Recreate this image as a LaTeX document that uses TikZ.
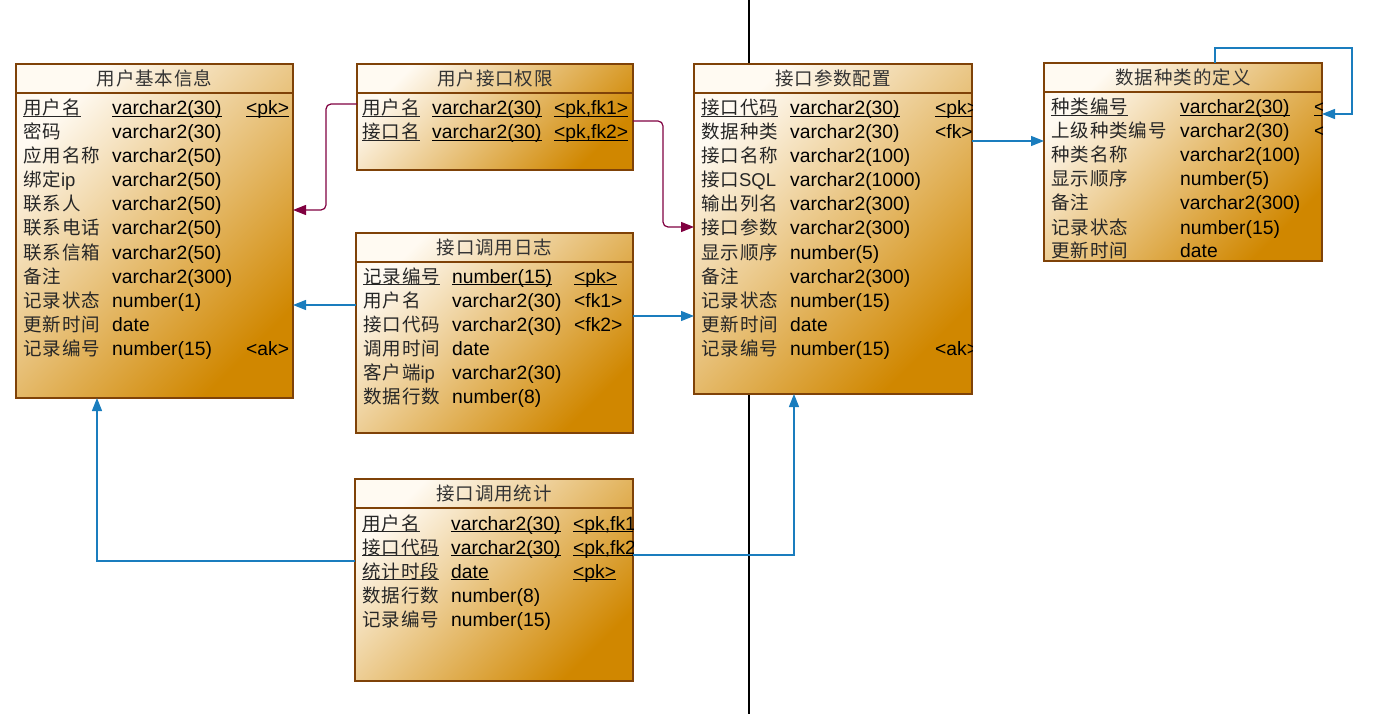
\documentclass[tikz,border=0pt]{standalone}
\usepackage{fontspec}
\setmainfont{Liberation Sans}
\newfontfamily\cjkfont[LetterSpace=5]{Noto Sans CJK SC}
\usetikzlibrary{arrows.meta,calc}

\definecolor{boxline}{HTML}{7F4208}
\definecolor{boxlight}{HTML}{FFFAF2}
\definecolor{boxdark}{HTML}{D08700}
\definecolor{fkred}{HTML}{800040}
\definecolor{fkblue}{HTML}{1A7DBE}

% underline as in the pk rows
\newcommand\pkul[1]{\setbox0=\hbox{#1}\rlap{\rule[-1.8pt]{\wd0}{0.9pt}}\box0}

% one row: table, row no., name, type, key
\newcommand\fld[5]{%
  \node[colname] (#1-n#2) at (\colN,{\rowY+24*(#2-1)+7}) {#3};
  \node[coltype] (#1-t#2) at (\colT,{\rowY+24*(#2-1)+7}) {#4};
  \node[coltype] (#1-k#2) at (\colK,{\rowY+24*(#2-1)+7}) {#5};}
\newcommand\pkfld[5]{\fld{#1}{#2}{\pkul{#3}}{\pkul{#4}}{\pkul{#5}}}

\tikzset{
  entity/.style={draw=boxline, line width=1.1pt, top color=boxlight, bottom color=boxdark,
    shading angle=45, inner sep=0pt, outer sep=0pt, anchor=north west},
  enttitle/.style={font=\cjkfont\fontsize{18.5}{20}\selectfont, text=black!80, inner sep=0pt},
  colname/.style={font=\cjkfont\fontsize{18.5}{20}\selectfont, text=black!85, anchor=base west, inner sep=0pt},
  coltype/.style={font=\fontsize{19.3}{22}\selectfont, anchor=base west, inner sep=0pt},
  refline/.style={fkblue, line width=1.2pt, -{Triangle[length=13pt,width=10pt]}},
  refpkline/.style={fkred, line width=1.2pt, -{Triangle[length=13pt,width=10pt]}, rounded corners=5pt},
}

\begin{document}
\begin{tikzpicture}[x=1pt,y=-1pt]
\useasboundingbox (0,0) rectangle (1400,714);

\draw[line width=1.2pt] (749,0) -- (749,714);

% tables
\node[entity, minimum width=277pt, minimum height=334pt] (ubi) at (16,64) {};
\node[entity, minimum width=276pt, minimum height=106pt] (ujq) at (357,64) {};
\node[entity, minimum width=278pt, minimum height=330pt] (jcp) at (694,64) {};
\node[entity, minimum width=278pt, minimum height=198pt] (sjz) at (1044,63) {};
\node[entity, minimum width=277pt, minimum height=200pt] (jrz) at (356,233) {};
\node[entity, minimum width=278pt, minimum height=202pt] (jtj) at (355,479) {};

\foreach \t/\s in {ubi/用户基本信息, ujq/用户接口权限, jcp/接口参数配置,
                   sjz/数据种类的定义, jrz/接口调用日志, jtj/接口调用统计}{
  \node[enttitle] (\t-h) at ([yshift=-14.5pt]\t.north) {\s};
  \draw[boxline, line width=1.1pt] ([yshift=-29pt]\t.north west) -- ([yshift=-29pt]\t.north east);
}

% 用户基本信息
\begin{scope}
\clip (ubi.north west) rectangle (ubi.south east);
\def\colN{23}\def\colT{112}\def\colK{246}\def\rowY{108}
\pkfld{ubi}{1}{用户名}{varchar2(30)}{<pk>}
\fld{ubi}{2}{密码}{varchar2(30)}{}
\fld{ubi}{3}{应用名称}{varchar2(50)}{}
\fld{ubi}{4}{绑定{\rmfamily ip}}{varchar2(50)}{}
\fld{ubi}{5}{联系人}{varchar2(50)}{}
\fld{ubi}{6}{联系电话}{varchar2(50)}{}
\fld{ubi}{7}{联系信箱}{varchar2(50)}{}
\fld{ubi}{8}{备注}{varchar2(300)}{}
\fld{ubi}{9}{记录状态}{number(1)}{}
\fld{ubi}{10}{更新时间}{date}{}
\fld{ubi}{11}{记录编号}{number(15)}{<ak>}
\end{scope}

% 用户接口权限
\begin{scope}
\clip (ujq.north west) rectangle (ujq.south east);
\def\colN{362}\def\colT{432}\def\colK{554}\def\rowY{108}
\pkfld{ujq}{1}{用户名}{varchar2(30)}{<pk,fk1>}
\pkfld{ujq}{2}{接口名}{varchar2(30)}{<pk,fk2>}
\end{scope}

% 接口参数配置
\begin{scope}
\clip (jcp.north west) rectangle (jcp.south east);
\def\colN{701}\def\colT{790}\def\colK{935}\def\rowY{108}
\pkfld{jcp}{1}{接口代码}{varchar2(30)}{<pk>}
\fld{jcp}{2}{数据种类}{varchar2(30)}{<fk>}
\fld{jcp}{3}{接口名称}{varchar2(100)}{}
\fld{jcp}{4}{接口{\rmfamily SQL}}{varchar2(1000)}{}
\fld{jcp}{5}{输出列名}{varchar2(300)}{}
\fld{jcp}{6}{接口参数}{varchar2(300)}{}
\fld{jcp}{7}{显示顺序}{number(5)}{}
\fld{jcp}{8}{备注}{varchar2(300)}{}
\fld{jcp}{9}{记录状态}{number(15)}{}
\fld{jcp}{10}{更新时间}{date}{}
\fld{jcp}{11}{记录编号}{number(15)}{<ak>}
\end{scope}

% 数据种类的定义
\begin{scope}
\clip (sjz.north west) rectangle (sjz.south east);
\def\colN{1051}\def\colT{1180}\def\colK{1314}\def\rowY{107}
\pkfld{sjz}{1}{种类编号}{varchar2(30)}{<pk>}
\fld{sjz}{2}{上级种类编号}{varchar2(30)}{<fk>}
\fld{sjz}{3}{种类名称}{varchar2(100)}{}
\fld{sjz}{4}{显示顺序}{number(5)}{}
\fld{sjz}{5}{备注}{varchar2(300)}{}
\fld{sjz}{6}{记录状态}{number(15)}{}
\fld{sjz}{7}{更新时间}{date}{}
\end{scope}

% 接口调用日志
\begin{scope}
\clip (jrz.north west) rectangle (jrz.south east);
\def\colN{363}\def\colT{452}\def\colK{574}\def\rowY{276}
\pkfld{jrz}{1}{记录编号}{number(15)}{<pk>}
\fld{jrz}{2}{用户名}{varchar2(30)}{<fk1>}
\fld{jrz}{3}{接口代码}{varchar2(30)}{<fk2>}
\fld{jrz}{4}{调用时间}{date}{}
\fld{jrz}{5}{客户端{\rmfamily ip}}{varchar2(30)}{}
\fld{jrz}{6}{数据行数}{number(8)}{}
\end{scope}

% 接口调用统计
\begin{scope}
\clip (jtj.north west) rectangle (jtj.south east);
\def\colN{362}\def\colT{451}\def\colK{573}\def\rowY{523}
\pkfld{jtj}{1}{用户名}{varchar2(30)}{<pk,fk1>}
\pkfld{jtj}{2}{接口代码}{varchar2(30)}{<pk,fk2>}
\pkfld{jtj}{3}{统计时段}{date}{<pk>}
\fld{jtj}{4}{数据行数}{number(8)}{}
\fld{jtj}{5}{记录编号}{number(15)}{}
\end{scope}

% references
\draw[refpkline] (ujq.west |- 0,104) -- (326,104) -- (326,210) -- (ubi.east |- 0,210);
\draw[refpkline] (ujq.east |- 0,121) -- (663,121) -- (663,227) -- (jcp.west |- 0,227);
\draw[refline] (jrz.west |- 0,305) -- (ubi.east |- 0,305);
\draw[refline] (jrz.east |- 0,316) -- (jcp.west |- 0,316);
\draw[refline] (jcp.east |- 0,141) -- (sjz.west |- 0,141);
\draw[refline] (sjz.north -| 1215,0) -- (1215,48) -- (1352,48) -- (1352,114) -- (sjz.east |- 0,114);
\draw[refline] (jtj.west |- 0,561) -- (97,561) -- (ubi.south -| 97,0);
\draw[refline] (jtj.east |- 0,555) -- (794,555) -- (jcp.south -| 794,0);

\end{tikzpicture}
\end{document}
